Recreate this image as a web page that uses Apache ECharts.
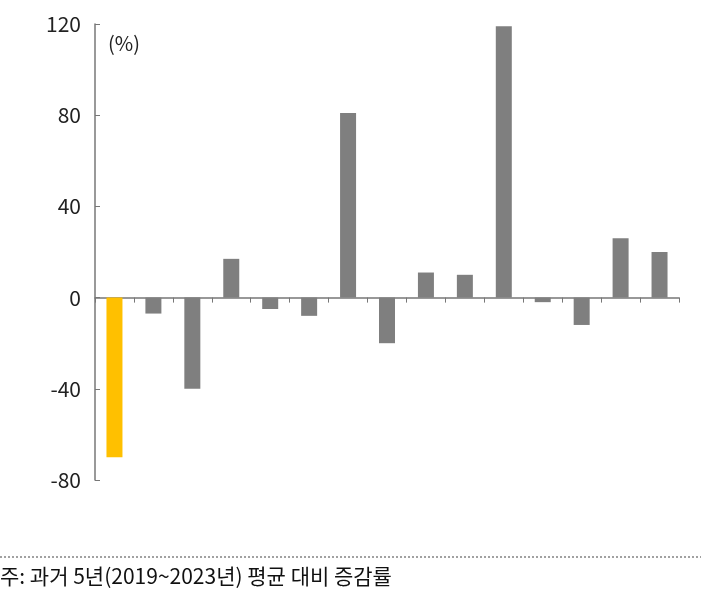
<!DOCTYPE html><html><head><meta charset="utf-8"><script src="https://cdn.jsdelivr.net/npm/echarts@6/dist/echarts.min.js"></script>
<style>body{margin:0}#c{width:701px;height:604px}</style></head><body><div id="c"></div><script>
const categories=['서울','경기','부산','대구','인천','광주','대전','울산','강원','경남','경북','전남','전북','충남','충북'];
const values=[-70,-7,-40,17,-5,-8,81,-20,11,10,119,-2,-12,26,20];
const yTicks={min:-80,max:120,interval:40};
const font='"Noto Sans CJK KR","Noto Sans",sans-serif';
const chart=echarts.init(document.getElementById('c'));
chart.setOption({animation:false,
grid:{left:95,right:22,top:24,bottom:124,outerBoundsMode:'none',containLabel:false},
graphic:[
{type:'text',left:108,top:33,style:{text:'(%)',font:'20px '+font,fill:'#222'}},
{type:'line',shape:{x1:0,y1:557,x2:701,y2:557},style:{stroke:'#444',lineWidth:1,lineDash:[2,2]}},
{type:'text',left:0,top:566,style:{text:'주: 과거 5년(2019~2023년) 평균 대비 증감률',font:'21px '+font,fill:'#111'}}
],
xAxis:{type:'category',data:categories,position:'bottom',axisLine:{onZero:true,lineStyle:{color:'#777',width:1.5}},
axisTick:{show:true,alignWithLabel:false,length:5,lineStyle:{color:'#777'}},
axisLabel:{rotate:90,interval:0,margin:198,color:'#222',fontSize:21,fontFamily:font,verticalAlign:'middle',align:'right'}},
yAxis:{type:'value',min:yTicks.min,max:yTicks.max,interval:yTicks.interval,splitLine:{show:false},
axisLine:{show:true,lineStyle:{color:'#777',width:1.5}},axisTick:{show:true,inside:true,length:5,lineStyle:{color:'#777'}},
axisLabel:{color:'#222',fontSize:21,fontFamily:font,margin:14}},
series:[{type:'bar',barWidth:16,data:values.map((v,i)=>({value:v,itemStyle:{color:i===0?'#FFC000':'#7F7F7F'}}))}]
});
</script></body></html>
